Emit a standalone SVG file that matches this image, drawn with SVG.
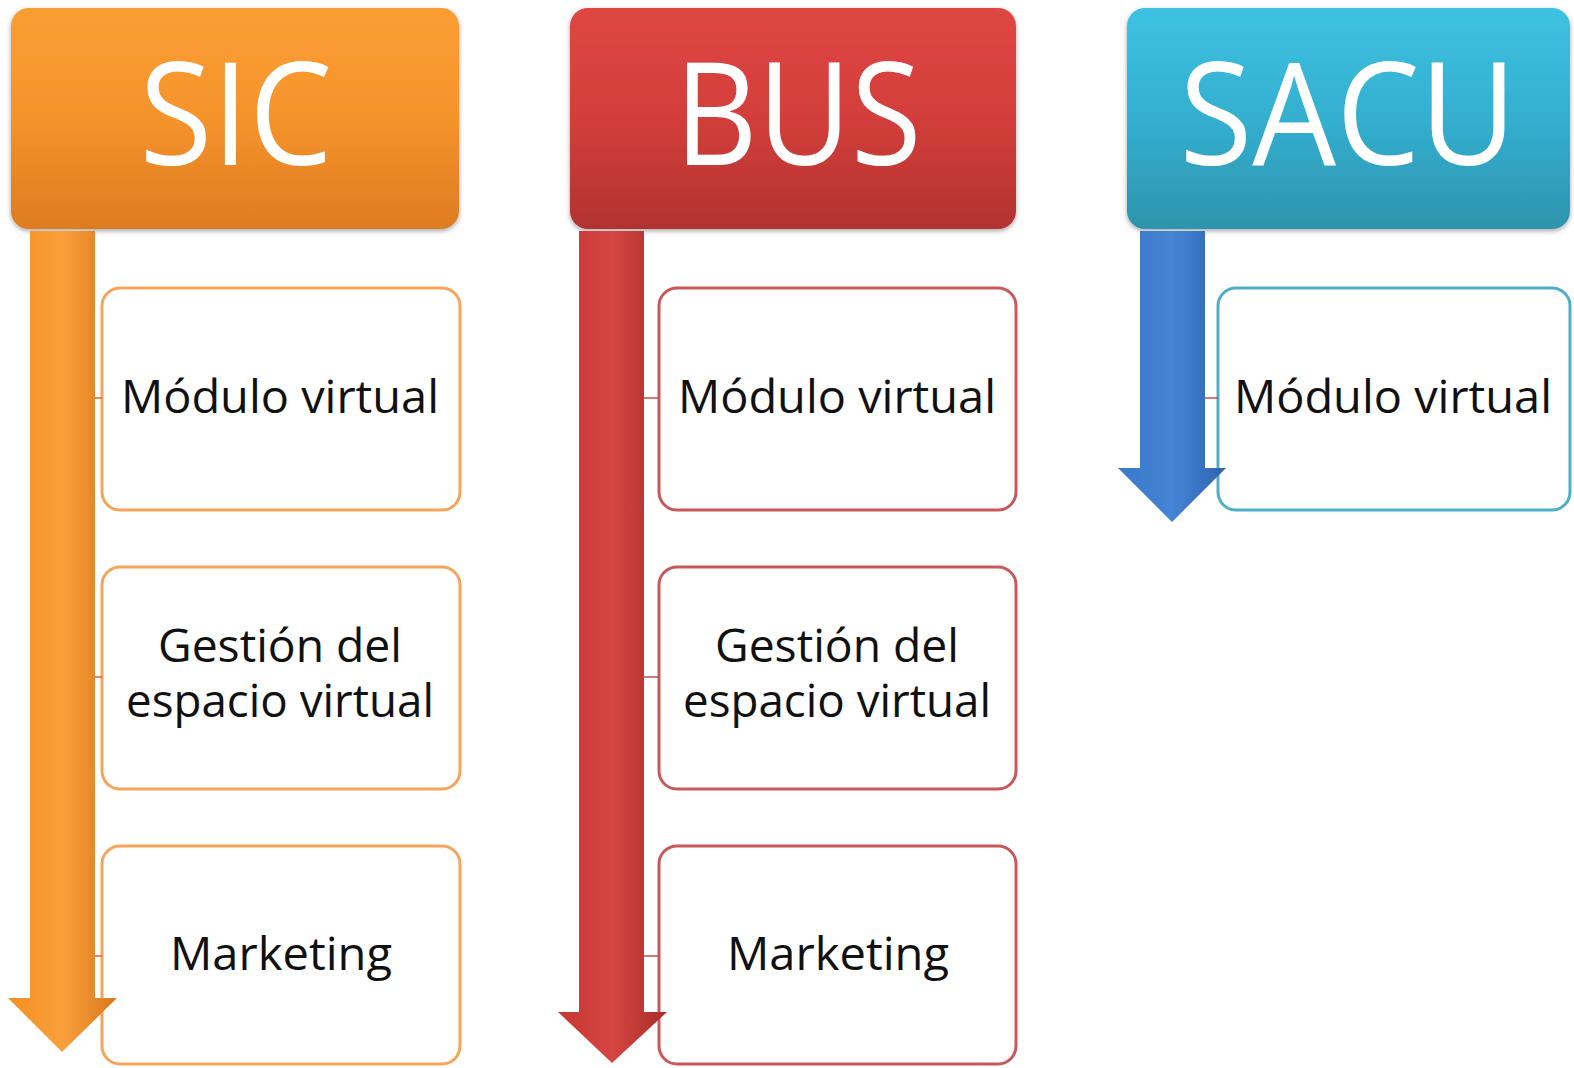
<svg xmlns="http://www.w3.org/2000/svg" width="1574" height="1068" viewBox="0 0 1574 1068">
<defs>
<linearGradient id="gOrange" x1="0" y1="0" x2="0" y2="1"><stop offset="0" stop-color="#FB9E33"/><stop offset="0.5" stop-color="#F5932C"/><stop offset="1" stop-color="#DE7C22"/></linearGradient>
<linearGradient id="gRed" x1="0" y1="0" x2="0" y2="1"><stop offset="0" stop-color="#DE4643"/><stop offset="0.5" stop-color="#D33E3B"/><stop offset="1" stop-color="#B13330"/></linearGradient>
<linearGradient id="gTeal" x1="0" y1="0" x2="0" y2="1"><stop offset="0" stop-color="#3EC2E2"/><stop offset="0.5" stop-color="#34AFD0"/><stop offset="1" stop-color="#2D94AE"/></linearGradient>
<linearGradient id="aOrange" x1="0" y1="0" x2="1" y2="0"><stop offset="0" stop-color="#F58F23"/><stop offset="0.5" stop-color="#F9A03A"/><stop offset="1" stop-color="#D9771E"/></linearGradient>
<linearGradient id="aRed" x1="0" y1="0" x2="1" y2="0"><stop offset="0" stop-color="#C53733"/><stop offset="0.5" stop-color="#D54542"/><stop offset="1" stop-color="#A82D2A"/></linearGradient>
<linearGradient id="aBlue" x1="0" y1="0" x2="1" y2="0"><stop offset="0" stop-color="#3A78C9"/><stop offset="0.5" stop-color="#4585D6"/><stop offset="1" stop-color="#2E62B0"/></linearGradient>
<filter id="sh" x="-5%" y="-5%" width="110%" height="115%"><feDropShadow dx="0" dy="2" stdDeviation="2.5" flood-color="#000" flood-opacity="0.35"/></filter>
</defs>
<style>
.hd{font-family:"Open Sans","Noto Sans","DejaVu Sans",sans-serif;font-size:143px;fill:#fff;text-anchor:middle}
.tx{font-family:"Open Sans","Noto Sans","DejaVu Sans",sans-serif;font-size:45px;fill:#111;text-anchor:middle}
.box{fill:#fff;stroke-width:3}
.link{stroke-width:1.5;fill:none}
</style>
<g id="sic">
<rect x="11" y="8" width="448" height="221" rx="18" fill="url(#gOrange)" filter="url(#sh)"/>
<text class="hd" x="236" y="165" textLength="193" lengthAdjust="spacingAndGlyphs">SIC</text>
</g>
<g id="bus">
<rect x="570" y="8" width="446" height="221" rx="18" fill="url(#gRed)" filter="url(#sh)"/>
<text class="hd" x="798" y="165" textLength="247" lengthAdjust="spacingAndGlyphs">BUS</text>
</g>
<g id="sacu">
<rect x="1127" y="8" width="443" height="221" rx="18" fill="url(#gTeal)" filter="url(#sh)"/>
<text class="hd" x="1348" y="165" textLength="337" lengthAdjust="spacingAndGlyphs">SACU</text>
</g>
<g id="sic-modulo">
<rect class="box" x="102" y="288" width="358" height="222" rx="18" stroke="#F4A55A"/>
<text class="tx" x="280" y="413" textLength="318" lengthAdjust="spacingAndGlyphs">Módulo virtual</text>
</g>
<g id="sic-gestion">
<rect class="box" x="102" y="567" width="358" height="222" rx="18" stroke="#F4A55A"/>
<text class="tx" x="280" y="662" textLength="244" lengthAdjust="spacingAndGlyphs">Gestión del</text>
<text class="tx" x="280" y="717" textLength="308" lengthAdjust="spacingAndGlyphs">espacio virtual</text>
</g>
<g id="sic-marketing">
<rect class="box" x="102" y="846" width="358" height="218" rx="18" stroke="#F4A55A"/>
<text class="tx" x="281" y="970" textLength="222" lengthAdjust="spacingAndGlyphs">Marketing</text>
</g>
<g id="bus-modulo">
<rect class="box" x="659" y="288" width="357" height="222" rx="18" stroke="#C9585A"/>
<text class="tx" x="837" y="413" textLength="318" lengthAdjust="spacingAndGlyphs">Módulo virtual</text>
</g>
<g id="bus-gestion">
<rect class="box" x="659" y="567" width="357" height="222" rx="18" stroke="#C9585A"/>
<text class="tx" x="837" y="662" textLength="244" lengthAdjust="spacingAndGlyphs">Gestión del</text>
<text class="tx" x="837" y="717" textLength="308" lengthAdjust="spacingAndGlyphs">espacio virtual</text>
</g>
<g id="bus-marketing">
<rect class="box" x="659" y="846" width="357" height="218" rx="18" stroke="#C9585A"/>
<text class="tx" x="838" y="970" textLength="222" lengthAdjust="spacingAndGlyphs">Marketing</text>
</g>
<g id="sacu-modulo">
<rect class="box" x="1218" y="288" width="352" height="222" rx="18" stroke="#4FAFC8"/>
<text class="tx" x="1393" y="413" textLength="318" lengthAdjust="spacingAndGlyphs">Módulo virtual</text>
</g>
<g id="connectors">
<path d="M30,231 H95 V998 H117 L62,1052 L8,998 H30 Z" fill="url(#aOrange)"/>
<path d="M579,231 H644 V1012 H667 L612,1063 L558,1012 H579 Z" fill="url(#aRed)"/>
<path d="M1140,231 H1205 V468 H1226 L1172,522 L1118,468 H1140 Z" fill="url(#aBlue)"/>
<line class="link" x1="95" y1="398" x2="102" y2="398" stroke="#D4683A"/>
<line class="link" x1="95" y1="677" x2="102" y2="677" stroke="#D4683A"/>
<line class="link" x1="95" y1="956" x2="102" y2="956" stroke="#D4683A"/>
<line class="link" x1="644" y1="398" x2="659" y2="398" stroke="#C0504D"/>
<line class="link" x1="644" y1="677" x2="659" y2="677" stroke="#C0504D"/>
<line class="link" x1="644" y1="956" x2="659" y2="956" stroke="#C0504D"/>
<line class="link" x1="1205" y1="398" x2="1218" y2="398" stroke="#C0504D"/>
</g>
</svg>
